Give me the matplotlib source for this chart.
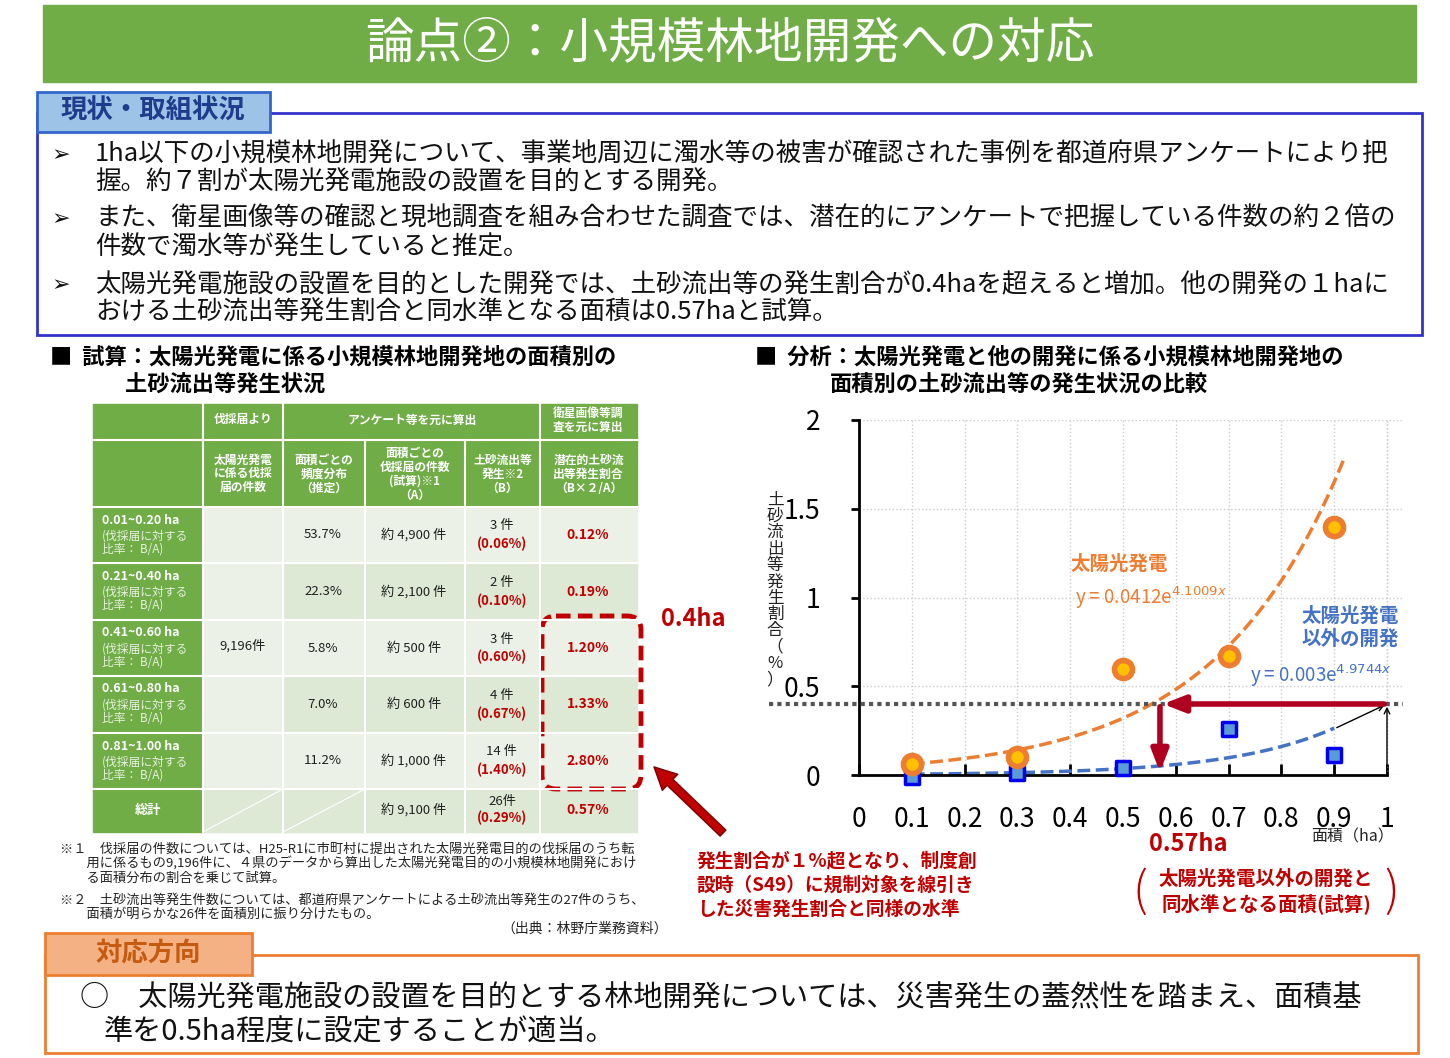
import numpy as np
import matplotlib.pyplot as plt
from matplotlib.patches import Rectangle, FancyBboxPatch, FancyArrowPatch

plt.rcParams['font.family'] = ['Noto Sans CJK JP', 'DejaVu Sans']

# --- data ---
area_mid = [0.1, 0.3, 0.5, 0.7, 0.9]
solar_rate = [0.06, 0.10, 0.60, 0.67, 1.40]
other_rate = [-0.01, 0.01, 0.04, 0.26, 0.11]
solar_fit = (0.0412, 4.1009)
other_fit = (0.003, 4.9744)
x_ticks = [0, 0.1, 0.2, 0.3, 0.4, 0.5, 0.6, 0.7, 0.8, 0.9, 1]
y_ticks = [0, 0.5, 1, 1.5, 2]

row_labels = ['0.01~0.20 ha', '0.21~0.40 ha', '0.41~0.60 ha', '0.61~0.80 ha', '0.81~1.00 ha']
freq = ['53.7%', '22.3%', '5.8%', '7.0%', '11.2%']
counts = ['約 4,900 件', '約 2,100 件', '約 500 件', '約 600 件', '約 1,000 件']
events = ['3 件', '2 件', '3 件', '4 件', '14 件']
event_pct = ['(0.06%)', '(0.10%)', '(0.60%)', '(0.67%)', '(1.40%)']
potential = ['0.12%', '0.19%', '1.20%', '1.33%', '2.80%']

GREEN = '#70ad47'
RED = '#c00000'
ORANGE = '#ed7d31'
BLUE = '#4472c4'

fig = plt.figure(figsize=(14.5, 10.58), dpi=100)
bg = fig.add_axes([0, 0, 1, 1])
bg.set_xlim(0, 1450)
bg.set_ylim(1058, 0)
bg.axis('off')

def T(x, y, s, **kw):
    kw.setdefault('va', 'center')
    bg.text(x, y, s, **kw)

# --- title banner ---
bg.add_patch(Rectangle((43, 5), 1373, 77, color=GREEN))
T(730, 43, '論点②：小規模林地開発への対応', color='white', fontsize=35, ha='center')

# --- current status box ---
bg.add_patch(Rectangle((37, 113), 1385, 222, fill=False, ec='#3333cc', lw=2))
bg.add_patch(Rectangle((37, 92), 233, 40, fc='#9dc3e6', ec='#3366cc', lw=2))
T(153, 111, '現状・取組状況', color='#1f3b8c', fontsize=19, fontweight='bold', ha='center')
bullets = [
    (155, '1ha以下の小規模林地開発について、事業地周辺に濁水等の被害が確認された事例を都道府県アンケートにより把'),
    (183, '握。約７割が太陽光発電施設の設置を目的とする開発。'),
    (219, 'また、衛星画像等の確認と現地調査を組み合わせた調査では、潜在的にアンケートで把握している件数の約２倍の'),
    (248, '件数で濁水等が発生していると推定。'),
    (285, '太陽光発電施設の設置を目的とした開発では、土砂流出等の発生割合が0.4haを超えると増加。他の開発の１haに'),
    (313, 'おける土砂流出等発生割合と同水準となる面積は0.57haと試算。'),
]
for y, s in bullets:
    T(95, y, s, fontsize=18.4, color='#111')
for y in (155, 219, 285):
    T(52, y, '➢', fontsize=16, color='#111', family='DejaVu Sans')

# --- section headers ---
T(50, 357, '■  試算：太陽光発電に係る小規模林地開発地の面積別の', fontsize=16, fontweight='bold')
T(125, 385, '土砂流出等発生状況', fontsize=16, fontweight='bold')
T(755, 357, '■  分析：太陽光発電と他の開発に係る小規模林地開発地の', fontsize=16, fontweight='bold')
T(830, 385, '面積別の土砂流出等の発生状況の比較', fontsize=16, fontweight='bold')

# --- table ---
cx = [93, 203, 283, 365, 465, 540, 637]
ry = [404, 440, 507, 563, 620, 676, 733, 789, 832]
tw = dict(color='white', fontsize=8.5, fontweight='bold', ha='center')
bg.add_patch(Rectangle((cx[0], ry[0]), cx[-1] - cx[0], ry[2] - ry[0], color=GREEN))
T(243, 420, '伐採届より', **tw)
T(412, 420, 'アンケート等を元に算出', **tw)
T(588, 420, '衛星画像等調\n査を元に算出', linespacing=1.1, **tw)
heads = ['太陽光発電\nに係る伐採\n届の件数', '面積ごとの\n頻度分布\n（推定）',
         '面積ごとの\n伐採届の件数\n(試算)※1\n（A）', '土砂流出等\n発生※2\n（B）',
         '潜在的土砂流\n出等発生割合\n（B×２/A）']
for i, h in enumerate(heads):
    T((cx[i + 1] + cx[i + 2]) / 2, 474, h, linespacing=1.1, **tw)
for r in range(6):
    y0, y1 = ry[r + 2], ry[r + 3]
    bg.add_patch(Rectangle((cx[0], y0), cx[1] - cx[0], y1 - y0, color=GREEN))
    fc = '#ebf1e6' if r % 2 == 0 else '#dde8d5'
    bg.add_patch(Rectangle((cx[2], y0), cx[-1] - cx[2], y1 - y0, color=fc))
bg.add_patch(Rectangle((cx[1], ry[2]), cx[2] - cx[1], ry[7] - ry[2], color='#ebf1e6'))
bg.add_patch(Rectangle((cx[1], ry[7]), cx[3] - cx[1], ry[8] - ry[7], color='#dde8d5'))
for x in cx[1:-1]:
    bg.plot([x, x], [ry[0] if x not in (cx[3], cx[4]) else ry[1], ry[-1]], color='white', lw=1.5)
for y in ry[1:-1]:
    bg.plot([cx[0], cx[-1]], [y, y], color='white', lw=1.5)
bg.plot([cx[1], cx[2]], [ry[8], ry[7]], color='white', lw=0.8)
bg.plot([cx[2], cx[3]], [ry[8], ry[7]], color='white', lw=0.8)
for r in range(5):
    y0 = ry[r + 2]
    T(102, y0 + 13, row_labels[r], color='white', fontsize=9, fontweight='bold')
    T(102, y0 + 36, '(伐採届に対する\n比率： B/A)', color='#e8f0e0', fontsize=8.5, linespacing=1.0)
    yc = (ry[r + 2] + ry[r + 3]) / 2
    T(323, yc, freq[r], fontsize=9.5, ha='center', color='#222')
    T(414, yc, counts[r], fontsize=9.5, ha='center', color='#222')
    T(502, yc - 9, events[r], fontsize=9.5, ha='center', color='#222')
    T(502, yc + 9, event_pct[r], fontsize=9.5, ha='center', color=RED, fontweight='bold')
    T(588, yc, potential[r], fontsize=10, ha='center', color=RED, fontweight='bold')
T(243, 646, '9,196件', fontsize=9.5, ha='center', color='#222')
T(148, 810, '総計', color='white', fontsize=9.5, fontweight='bold', ha='center')
T(414, 810, '約 9,100 件', fontsize=9.5, ha='center', color='#222')
T(502, 801, '26件', fontsize=9.5, ha='center', color='#222')
T(502, 818, '(0.29%)', fontsize=9.5, ha='center', color=RED, fontweight='bold')
T(588, 810, '0.57%', fontsize=10, ha='center', color=RED, fontweight='bold')
bg.add_patch(FancyBboxPatch((542, 616), 99, 173, boxstyle='round,pad=0,rounding_size=14',
                            fill=False, ec=RED, lw=3.5, ls=(0, (3, 1.5))))
T(693, 619, '0.4ha', color=RED, fontsize=17, fontweight='bold', ha='center')
bg.add_patch(FancyArrowPatch((725, 835), (652, 765), arrowstyle='simple,head_width=16,head_length=16,tail_width=6',
                             fc=RED, ec='#7a0000', lw=1))

# footnotes
fn = dict(fontsize=9.5, color='#222', linespacing=1.1, va='top')
T(60, 843, '※１　伐採届の件数については、H25-R1に市町村に提出された太陽光発電目的の伐採届のうち転\n'
          '　　用に係るもの9,196件に、４県のデータから算出した太陽光発電目的の小規模林地開発におけ\n'
          '　　る面積分布の割合を乗じて試算。', **fn)
T(60, 894, '※２　土砂流出等発生件数については、都道府県アンケートによる土砂流出等発生の27件のうち、\n'
          '　　面積が明らかな26件を面積別に振り分けたもの。', **fn)
T(668, 929, '（出典：林野庁業務資料）', fontsize=10, color='#222', ha='right')

T(697, 885, '発生割合が１%超となり、制度創\n設時（S49）に規制対象を線引き\nした災害発生割合と同様の水準',
  color=RED, fontsize=13.5, fontweight='bold', linespacing=1.35)
T(1188, 844, '0.57ha', color=RED, fontsize=17, fontweight='bold', ha='center')
T(1266, 892, '太陽光発電以外の開発と\n同水準となる面積(試算)', color=RED, fontsize=14,
  fontweight='bold', ha='center', linespacing=1.3)
T(1140, 892, '(', color=RED, fontsize=34, ha='center', fontweight='light')
T(1392, 892, ')', color=RED, fontsize=34, ha='center', fontweight='light')

# --- bottom box ---
bg.add_patch(Rectangle((45, 955), 1373, 98, fill=False, ec=ORANGE, lw=2))
bg.add_patch(Rectangle((45, 933), 207, 42, fc='#f4b183', ec=ORANGE, lw=2))
T(148, 953, '対応方向', color='#c55a11', fontsize=19, fontweight='bold', ha='center')
T(80, 998, '○　太陽光発電施設の設置を目的とする林地開発については、災害発生の蓋然性を踏まえ、面積基',
  fontsize=21, color='#111')
T(104, 1032, '準を0.5ha程度に設定することが適当。', fontsize=21, color='#111')

# --- chart ---
W, H = 1450, 1058
x0, x1, y0, y1 = 859, 859 + 528 * 1.03, 775, 420
ax = fig.add_axes([x0 / W, 1 - y0 / H, (x1 - x0) / W, (y0 - y1) / H])
ax.set_xlim(0, 1.03)
ax.set_ylim(0, 2)
ax.patch.set_alpha(0)
for s in ('top', 'right'):
    ax.spines[s].set_visible(False)
for s in ('left', 'bottom'):
    ax.spines[s].set_linewidth(2)
ax.spines['bottom'].set_bounds(0, 1)
ax.set_xticks(x_ticks)
ax.set_xticklabels([str(v) for v in x_ticks])
ax.set_yticks(y_ticks)
ax.set_yticklabels([str(v) for v in y_ticks])
ax.tick_params(direction='in', length=8, width=2, labelsize=19, pad=22)
ax.tick_params(axis='y', direction='out', length=6, pad=22)
ax.grid(True, color='#cccccc', ls=':', lw=1)
ax.vlines(1.0, 0, 2, color='#cccccc', ls=':', lw=1)

xs = np.linspace(0.1, 0.92, 100)
ax.plot(xs, solar_fit[0] * np.exp(solar_fit[1] * xs), color=ORANGE, ls='--', lw=2.5)
xb = np.linspace(0.1, 0.9, 100)
ax.plot(xb, other_fit[0] * np.exp(other_fit[1] * xb), color=BLUE, ls='--', lw=2.5)
ax.scatter(area_mid, other_rate, marker='s', s=110, c='#5b9bd5', edgecolors='#0000ee', linewidths=2.5,
           zorder=5, clip_on=False)
ax.scatter(area_mid, solar_rate, marker='o', s=170, c='#ffc000', edgecolors=ORANGE, linewidths=4,
           zorder=6, clip_on=False)

ax.plot([-0.17, 1.03], [0.4, 0.4], color='#555555', ls=(0, (1, 1)), lw=3, clip_on=False, zorder=3)
ax.annotate('', xy=(0.57, 0.4), xytext=(1.0, 0.4),
            arrowprops=dict(arrowstyle='-|>,head_width=0.5,head_length=1.3', color='#b00020', lw=4), zorder=7)
ax.annotate('', xy=(0.57, 0.0), xytext=(0.57, 0.4),
            arrowprops=dict(arrowstyle='-|>,head_width=0.5,head_length=1.3', color='#b00020', lw=4), zorder=7)
ax.annotate('', xy=(1.0, 0.4), xytext=(0.9, 0.26), arrowprops=dict(arrowstyle='->', color='black', lw=1))
ax.annotate('', xy=(1.0, 0.4), xytext=(1.0, 0.0), arrowprops=dict(arrowstyle='->', color='black', lw=1))

ax.text(0.40, 1.19, '太陽光発電', color=ORANGE, fontsize=14, fontweight='bold', va='center')
ax.text(0.41, 1.0, 'y = 0.0412e$^{4.1009x}$', color=ORANGE, fontsize=13.5, va='center')
ax.text(0.93, 0.83, '太陽光発電\n以外の開発', color=BLUE, fontsize=14, fontweight='bold', ha='center',
        va='center', linespacing=1.3)
ax.text(0.74, 0.56, 'y = 0.003e$^{4.9744x}$', color=BLUE, fontsize=13.5, va='center')
T(1352, 837, '面積（ha）', fontsize=11.5, color='#222', ha='center')
T(775, 590, '\n'.join('土砂流出等発生割合') + '\n（\n%\n）', fontsize=12, color='#222', ha='center',
  linespacing=0.95)

fig.savefig('out.png', dpi=100)
